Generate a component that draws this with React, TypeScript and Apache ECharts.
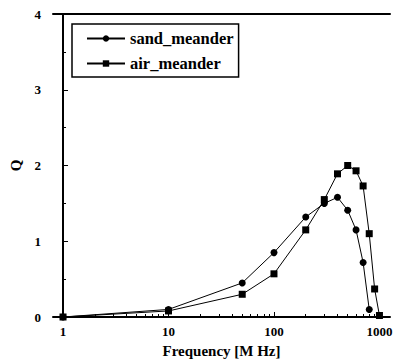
import React, { useEffect, useRef } from "react";
import * as echarts from "echarts";

const sandFreq = [1, 10, 50, 100, 200, 300, 400, 500, 600, 700, 800];
const sandQ = [0.0, 0.1, 0.45, 0.85, 1.32, 1.5, 1.58, 1.41, 1.15, 0.72, 0.1];
const airFreq = [1, 10, 50, 100, 200, 300, 400, 500, 600, 700, 800, 900, 1000];
const airQ = [0.0, 0.08, 0.3, 0.57, 1.15, 1.55, 1.89, 2.0, 1.93, 1.73, 1.1, 0.37, 0.02];
const majorDecades = [1, 10, 100, 1000];
const minorFactors = [2, 3, 4, 5, 6, 7, 8, 9];
const yTicks = [0, 1, 2, 3, 4];

const FONT = "Liberation Serif";

export default function App() {
  const ref = useRef<HTMLDivElement>(null);
  useEffect(() => {
    if (!ref.current) return;
    const chart = echarts.init(ref.current, undefined, { renderer: "svg" });
    const majorVals = majorDecades.map((d) => Math.log10(d));
    const minorVals: number[] = [];
    [1, 10, 100].forEach((d) => minorFactors.forEach((m) => minorVals.push(Math.log10(d * m))));
    const xmin = -0.095;
    const xmax = 3.1;
    const label = { fontFamily: FONT, fontWeight: "bold" as const, fontSize: 13, color: "#000" };
    chart.setOption({
      animation: false,
      backgroundColor: "#fff",
      textStyle: { fontFamily: FONT, fontWeight: "bold", color: "#000" },
      grid: { left: 53, right: 3, top: 14, bottom: 44, containLabel: false, outerBoundsMode: "none" },
      legend: {
        data: ["sand_meander", "air_meander"],
        orient: "vertical",
        left: 72,
        top: 24,
        borderColor: "#000",
        borderWidth: 1.5,
        padding: [6, 5, 5, 14],
        itemGap: 8,
        itemWidth: 38,
        itemHeight: 8,
        textStyle: { fontFamily: FONT, fontWeight: "bold", fontSize: 16.5, color: "#000" },
      },
      xAxis: [
        {
          type: "value",
          min: xmin,
          max: xmax,
          position: "bottom",
          name: "Frequency [M Hz]",
          nameLocation: "middle",
          nameGap: 26,
          nameTextStyle: { fontFamily: FONT, fontWeight: "bold", fontSize: 15, color: "#000" },
          axisLine: { show: true, lineStyle: { color: "#000", width: 2 } },
          axisTick: { show: true, inside: true, length: 5, customValues: majorVals, lineStyle: { color: "#000", width: 1 } },
          axisLabel: {
            ...label,
            margin: 8,
            customValues: majorVals,
            formatter: (v: number) => String(Math.round(Math.pow(10, v))),
          },
          splitLine: { show: false },
        },
        {
          type: "value",
          min: xmin,
          max: xmax,
          position: "bottom",
          axisLine: { show: false },
          axisTick: { show: true, inside: true, length: 3, customValues: minorVals, lineStyle: { color: "#000", width: 1 } },
          axisLabel: { show: false },
          splitLine: { show: false },
        },
        {
          type: "value",
          min: xmin,
          max: xmax,
          position: "top",
          axisLine: { show: true, lineStyle: { color: "#000", width: 2 } },
          axisTick: { show: false },
          axisLabel: { show: false },
          splitLine: { show: false },
        },
      ],
      yAxis: [
        {
          type: "value",
          min: 0,
          max: 4,
          interval: 1,
          position: "left",
          name: "Q",
          nameLocation: "middle",
          nameGap: 30,
          nameTextStyle: { fontFamily: FONT, fontWeight: "bold", fontSize: 15, color: "#000" },
          axisLine: { show: true, lineStyle: { color: "#000", width: 1 } },
          axisTick: { show: true, inside: true, length: 5, lineStyle: { color: "#000" } },
          minorTick: { show: true, splitNumber: 2, length: 3, lineStyle: { color: "#000" } },
          axisLabel: { ...label, margin: 12, customValues: yTicks },
          splitLine: { show: false },
        },
        {
          type: "value",
          min: 0,
          max: 4,
          position: "right",
          axisLine: { show: true, lineStyle: { color: "#000", width: 2 } },
          axisTick: { show: false },
          axisLabel: { show: false },
          splitLine: { show: false },
        },
      ],
      series: [
        {
          name: "sand_meander",
          type: "line",
          xAxisIndex: 0,
          yAxisIndex: 0,
          data: sandFreq.map((f, i) => [Math.log10(f), sandQ[i]]),
          symbol: "circle",
          symbolSize: 7,
          showAllSymbol: true,
          itemStyle: { color: "#000" },
          lineStyle: { color: "#000", width: 1 },
        },
        {
          name: "air_meander",
          type: "line",
          xAxisIndex: 0,
          yAxisIndex: 0,
          data: airFreq.map((f, i) => [Math.log10(f), airQ[i]]),
          symbol: "rect",
          symbolSize: 7,
          showAllSymbol: true,
          itemStyle: { color: "#000" },
          lineStyle: { color: "#000", width: 1 },
        },
      ],
    });
    return () => chart.dispose();
  }, []);
  return <div ref={ref} style={{ width: 393, height: 361, position: "absolute", left: 0, top: 0 }} />;
}
